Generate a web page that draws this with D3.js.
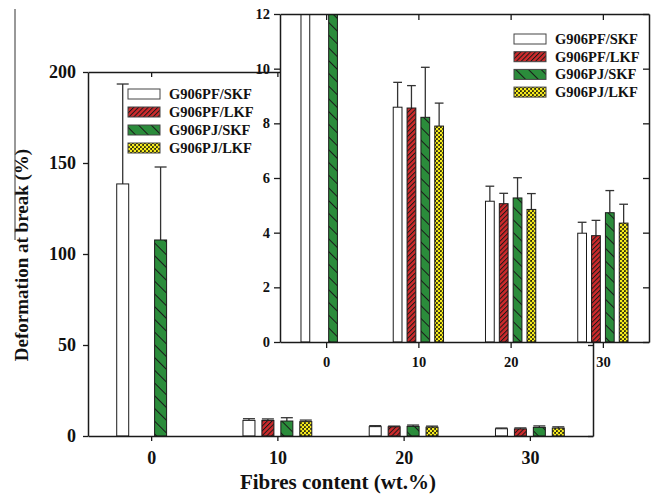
<!DOCTYPE html>
<html>
<head>
<meta charset="utf-8">
<script src="https://cdn.jsdelivr.net/npm/d3@7"></script>
<style>
  html, body { margin: 0; padding: 0; background: #fff; }
  svg { display: block; }
  text { font-family: "Liberation Serif", "Times New Roman", serif; font-weight: bold; fill: #111; }
</style>
</head>
<body>
<svg id="chart" width="657" height="497"></svg>
<script>
// ---------------- data ----------------
const categories = [0, 10, 20, 30];
const seriesNames = ["G906PF/SKF", "G906PF/LKF", "G906PJ/SKF", "G906PJ/LKF"];
const meanPFSKF = [138.5, 8.59, 5.15, 3.98];
const meanPFLKF = [null, 8.56, 5.06, 3.89];
const meanPJSKF = [107.7, 8.22, 5.27, 4.73];
const meanPJLKF = [null, 7.90, 4.85, 4.35];
const errPFSKF = [54.9, 0.91, 0.55, 0.40];
const errPFLKF = [null, 0.82, 0.38, 0.56];
const errPJSKF = [40.1, 1.83, 0.74, 0.81];
const errPJLKF = [null, 0.84, 0.58, 0.69];
const mainYTicks = [0, 50, 100, 150, 200];
const insetYTicks = [0, 2, 4, 6, 8, 10, 12];
const xTickValues = [0, 10, 20, 30];
const yLabel = "Deformation at break (%)";
const xLabel = "Fibres content (wt.%)";

const means = [meanPFSKF, meanPFLKF, meanPJSKF, meanPJLKF];
const errs = [errPFSKF, errPFLKF, errPJSKF, errPJLKF];
const fills = ["#ffffff", "url(#pRed)", "url(#pGreen)", "url(#pYellow)"];

const rows = [];
seriesNames.forEach((s, si) => categories.forEach((c, ci) => {
  if (means[si][ci] != null) rows.push({ s, si, c, v: means[si][ci], e: errs[si][ci] });
}));

const svg = d3.select("#chart");
const defs = svg.append("defs");

// patterns
const pr = defs.append("pattern").attr("id", "pRed").attr("patternUnits", "userSpaceOnUse")
  .attr("width", 3.4).attr("height", 3.4).attr("patternTransform", "rotate(45)");
pr.append("rect").attr("width", 3.4).attr("height", 3.4).attr("fill", "#cf2a2c");
pr.append("line").attr("x1", 0.5).attr("y1", 0).attr("x2", 0.5).attr("y2", 3.4)
  .attr("stroke", "#1a1a1a").attr("stroke-width", 1);

const pg = defs.append("pattern").attr("id", "pGreen").attr("patternUnits", "userSpaceOnUse")
  .attr("width", 9).attr("height", 9).attr("patternTransform", "rotate(-45)");
pg.append("rect").attr("width", 9).attr("height", 9).attr("fill", "#2b8c3b");
pg.append("line").attr("x1", 0.5).attr("y1", 0).attr("x2", 0.5).attr("y2", 9)
  .attr("stroke", "#1a1a1a").attr("stroke-width", 1);

const py = defs.append("pattern").attr("id", "pYellow").attr("patternUnits", "userSpaceOnUse")
  .attr("width", 4).attr("height", 4);
py.append("rect").attr("width", 4).attr("height", 4).attr("fill", "#2a2a10");
py.append("circle").attr("cx", 1).attr("cy", 1).attr("r", 1.35).attr("fill", "#f7ec1c");
py.append("circle").attr("cx", 3).attr("cy", 3).attr("r", 1.35).attr("fill", "#f7ec1c");

// band within group (in fibre-content units)
const band = d3.scaleBand().domain(seriesNames).range([-3, 3]).paddingInner(0.367).paddingOuter(0.183);

function drawPanel(g, x, y, opts) {
  const [x0, x1] = x.range();
  const [yb, yt] = y.range();
  const clipId = opts.id + "clip";
  defs.append("clipPath").attr("id", clipId).append("rect")
    .attr("x", x0).attr("y", yt).attr("width", x1 - x0).attr("height", yb - yt);
  if (opts.bg) g.append("rect").attr("x", x0).attr("y", yt).attr("width", x1 - x0).attr("height", yb - yt).attr("fill", "#fff");

  const plot = g.append("g").attr("clip-path", `url(#${clipId})`);
  // error bars
  const eb = plot.selectAll("g.eb").data(rows).join("g").attr("class", "eb")
    .attr("stroke", "#333").attr("stroke-width", 1.3);
  eb.append("line")
    .attr("x1", d => x(d.c + band(d.s) + band.bandwidth() / 2))
    .attr("x2", d => x(d.c + band(d.s) + band.bandwidth() / 2))
    .attr("y1", d => y(d.v)).attr("y2", d => y(d.v + d.e));
  eb.append("line")
    .attr("x1", d => x(d.c + band(d.s)))
    .attr("x2", d => x(d.c + band(d.s) + band.bandwidth()))
    .attr("y1", d => y(d.v + d.e)).attr("y2", d => y(d.v + d.e));
  // bars
  plot.selectAll("rect.bar").data(rows).join("rect").attr("class", "bar")
    .attr("x", d => x(d.c + band(d.s)))
    .attr("width", d => x(d.c + band(d.s) + band.bandwidth()) - x(d.c + band(d.s)))
    .attr("y", d => y(d.v))
    .attr("height", d => y(0) - y(d.v))
    .attr("fill", d => fills[d.si])
    .attr("stroke", "#1a1a1a").attr("stroke-width", 1);

  // axes
  const fs = opts.fs;
  const left = g.append("g").attr("transform", `translate(${x0},0)`)
    .call(d3.axisLeft(y).tickValues(opts.yTicks).tickSize(opts.tick).tickSizeOuter(0).tickPadding(opts.pad));
  const bottom = g.append("g").attr("transform", `translate(0,${yb})`)
    .call(d3.axisBottom(x).tickValues(xTickValues).tickSize(opts.tick).tickSizeOuter(0).tickPadding(opts.padX));
  const top = g.append("g").attr("transform", `translate(0,${yt})`)
    .call(d3.axisTop(x).tickValues(xTickValues).tickSize(-opts.tick).tickSizeOuter(0).tickFormat(""));
  const right = g.append("g").attr("transform", `translate(${x1},0)`)
    .call(d3.axisRight(y).tickValues(opts.yTicks).tickSize(-opts.tick).tickSizeOuter(0).tickFormat(""));
  [left, bottom, top, right].forEach(a => {
    a.selectAll("path.domain").attr("stroke", "#1a1a1a").attr("stroke-width", 1.5);
    a.selectAll(".tick line").attr("stroke", "#1a1a1a").attr("stroke-width", 1.3);
    a.selectAll("text").attr("font-size", fs).attr("font-family", "Liberation Serif, serif")
      .attr("font-weight", "bold").attr("fill", "#111");
  });

  // legend
  const lg = g.append("g");
  seriesNames.forEach((s, i) => {
    const cy = opts.legY + i * opts.legStep;
    lg.append("rect").attr("x", opts.legX).attr("y", cy - 5).attr("width", 32).attr("height", 10)
      .attr("fill", fills[i]).attr("stroke", "#444").attr("stroke-width", 1);
    lg.append("text").attr("x", opts.legX + 41).attr("y", cy).attr("dy", "0.35em")
      .attr("font-size", 14.5).text(s);
  });
}

// main chart
const xMain = d3.scaleLinear().domain([-5, 35]).range([88, 593]);
const yMain = d3.scaleLinear().domain([0, 200]).range([436, 72]);
const gMain = svg.append("g");
drawPanel(gMain, xMain, yMain, { id: "main", yTicks: mainYTicks, tick: 5, pad: 7, padX: 10, fs: 18,
  legX: 128, legY: 94, legStep: 18 });

// axis titles
svg.append("text").attr("transform", `translate(28,255) rotate(-90)`)
  .attr("text-anchor", "middle").attr("font-size", 19).text(yLabel);
svg.append("text").attr("x", 338).attr("y", 489)
  .attr("text-anchor", "middle").attr("font-size", 21).text(xLabel);

// stray line at left
svg.append("line").attr("x1", 15).attr("x2", 15).attr("y1", 9).attr("y2", 240)
  .attr("stroke", "#333").attr("stroke-width", 1);

// inset chart
const xIn = d3.scaleLinear().domain([-5, 35]).range([280, 649]);
const yIn = d3.scaleLinear().domain([0, 12]).range([342, 14]);
const gIn = svg.append("g");
drawPanel(gIn, xIn, yIn, { id: "inset", bg: true, yTicks: insetYTicks, tick: 6, pad: 4, padX: 9, fs: 14.5,
  legX: 514, legY: 39, legStep: 17.7 });
</script>
</body>
</html>
